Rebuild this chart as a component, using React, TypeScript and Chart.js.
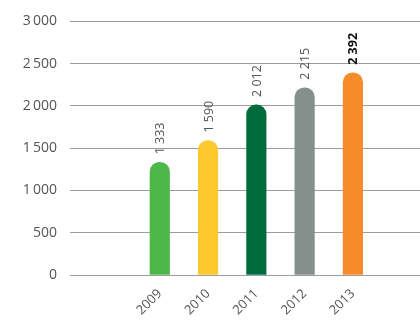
import React, { useEffect, useRef } from "react";
import { Chart, registerables } from "chart.js";

Chart.register(...registerables);

const years = [2009, 2010, 2011, 2012, 2013];
const values = [1333, 1590, 2012, 2215, 2392];
const valueLabels = ["1 333", "1 590", "2 012", "2 215", "2 392"];
const barColors = ["#4DB849", "#FEC82F", "#006B3A", "#858F8C", "#F68B2A"];
const yTicks = [0, 500, 1000, 1500, 2000, 2500, 3000];
const yTickLabels = ["0", "500", "1\u2009000", "1\u2009500", "2\u2009000", "2\u2009500", "3\u2009000"];

const valueLabelPlugin = {
  id: "valueLabels",
  afterDatasetsDraw(chart: any) {
    const meta = chart.getDatasetMeta(0);
    const ctx = chart.ctx;
    meta.data.forEach((bar: any, i: number) => {
      const last = i === values.length - 1;
      ctx.save();
      ctx.translate(bar.x + 1, bar.y - 8);
      ctx.rotate(-Math.PI / 2);
      ctx.textAlign = "left";
      ctx.textBaseline = "middle";
      ctx.font = `${last ? "bold " : ""}12.5px 'Open Sans'`;
      ctx.fillStyle = last ? "#111111" : "#555555";
      ctx.fillText(valueLabels[i], 0, 0);
      ctx.restore();
    });
  },
};

export default function App() {
  const ref = useRef<HTMLCanvasElement>(null);
  useEffect(() => {
    if (!ref.current) return;
    const chart = new Chart(ref.current, {
      type: "bar",
      data: {
        datasets: [
          {
            data: years.map((y, i) => ({ x: y, y: values[i] })),
            backgroundColor: barColors,
            barThickness: 19.5,
            borderRadius: 10,
            borderSkipped: "start",
          },
        ],
      },
      options: {
        animation: false,
        responsive: false,
        maintainAspectRatio: false,
        layout: { padding: { top: 20, right: 0, left: 0, bottom: 0 } },
        plugins: { legend: { display: false }, tooltip: { enabled: false } },
        scales: {
          x: {
            type: "linear",
            offset: false,
            min: 2007.14,
            max: 2014.39,
            grid: { display: false },
            border: { display: false },
            afterBuildTicks: (scale: any) => {
              scale.ticks = years.map((v) => ({ value: v }));
            },
            afterFit: (scale: any) => {
              scale.height = 55;
            },
            ticks: {
              autoSkip: false,
              minRotation: 45,
              maxRotation: 45,
              padding: 3,
              color: "#555555",
              font: { family: "'Open Sans'", size: 13 },
              callback: (v: any) => String(v),
            },
          },
          y: {
            min: 0,
            max: 3000,
            afterBuildTicks: (scale: any) => {
              scale.ticks = yTicks.map((v) => ({ value: v }));
            },
            afterFit: (scale: any) => {
              scale.width = 70;
            },
            grid: { color: "#9c9c9c", lineWidth: 1, drawTicks: false },
            border: { display: false },
            ticks: {
              padding: 13,
              color: "#555555",
              font: { family: "'Open Sans'", size: 14 },
              callback: (v: any) => yTickLabels[yTicks.indexOf(Number(v))],
            },
          },
        },
      },
      plugins: [valueLabelPlugin],
    });
    return () => chart.destroy();
  }, []);
  return (
    <div style={{ position: "fixed", left: 0, top: 0, width: 420, height: 330, background: "#fff" }}>
      <canvas ref={ref} width={420} height={330} style={{ width: 420, height: 330 }} />
    </div>
  );
}
